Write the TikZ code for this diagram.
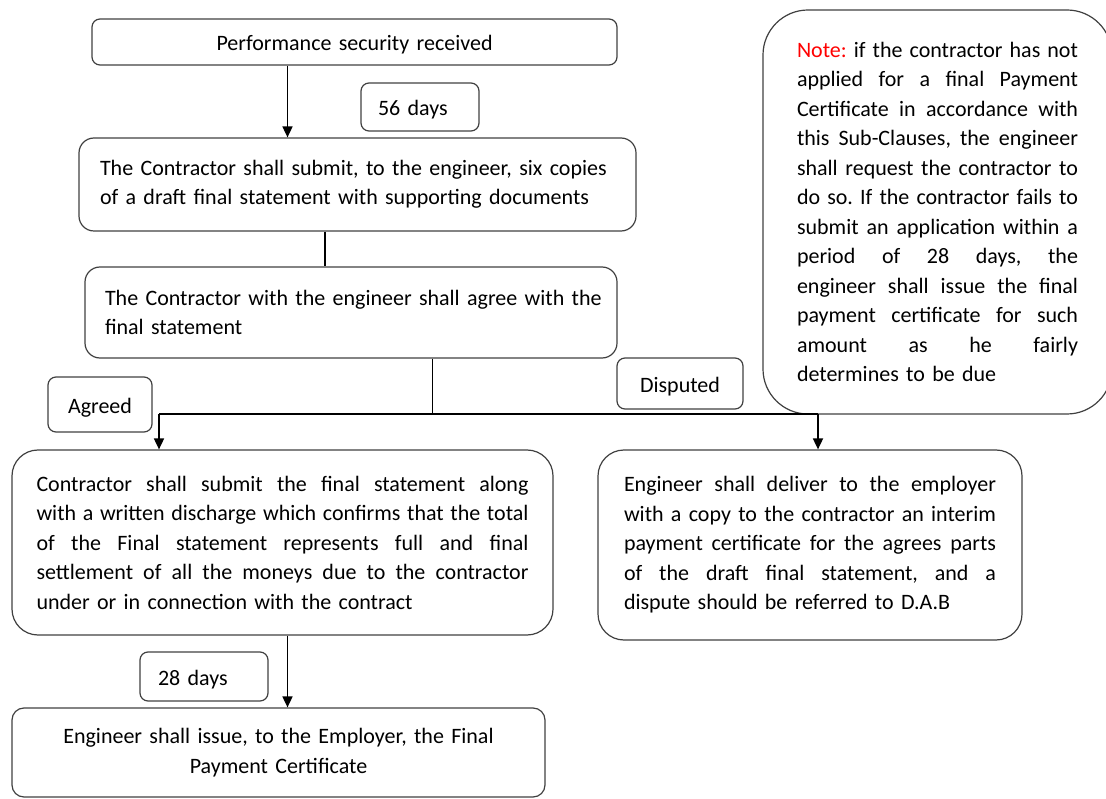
\documentclass[tikz,border=0pt]{standalone}
\usepackage{fontspec}
\setmainfont{Carlito}
\usetikzlibrary{arrows.meta}
% one justified line of a paragraph, spaces stretched to fill the given width
\newcommand{\jl}[2]{\leavevmode\hbox to #1{\spaceskip=0.226em plus 1fil\relax #2}}
% single-line labels sit a little low in their boxes
\newcommand{\low}[1]{\raisebox{-3pt}[\height][\depth]{#1}}
\begin{document}
\frenchspacing
\begin{tikzpicture}[x=1pt,y=-1pt,
  txt/.style={font=\fontsize{22}{29.5}\selectfont},
  box/.style={draw=black!75, line width=1.2pt, rounded corners=#1, inner sep=0pt, txt},
  link/.style={draw=black, line width=1.7pt},
  arr/.style={link, -{Triangle[length=11pt,width=10pt]}}
]
\useasboundingbox (0,0) rectangle (1106,799);

% main flow
\node[box=8pt, minimum width=525pt, minimum height=46pt, text width=500pt, align=center]
  (perf) at (354.5,42) {\low{Performance security received}};
\node[box=8pt, minimum width=118pt, minimum height=48pt, text width=84pt, align=left]
  (d56) at (420,107) {\low{56 days}};
\node[box=15pt, minimum width=557pt, minimum height=93pt, text width=515pt, align=left]
  (draft) at (357.5,184.5)
  {\mbox{The Contractor shall submit, to the engineer, six copies}\\
   \mbox{of a draft final statement with supporting documents}};
\node[box=15pt, minimum width=532pt, minimum height=91pt, text width=492pt, align=left]
  (agree) at (351,312.5)
  {\mbox{The Contractor with the engineer shall agree with the}\\
   \mbox{final statement}};

% branch labels
\node[box=8pt, minimum width=104pt, minimum height=55pt, align=center]
  (agreed) at (100,404.5) {\low{Agreed}};
\node[box=8pt, minimum width=126pt, minimum height=51pt, align=center]
  (disputed) at (680,383.5) {\low{Disputed}};

% note
\node[box=45pt, minimum width=349pt, minimum height=404pt, text width=281pt, align=left]
  (note) at (937.5,212)
  {\jl{281pt}{\textcolor{red}{Note:} if the contractor has not}\\
   \jl{281pt}{applied for a final Payment}\\
   \jl{281pt}{Certificate in accordance with}\\
   \jl{281pt}{this Sub-Clauses, the engineer}\\
   \jl{281pt}{shall request the contractor to}\\
   \jl{281pt}{do so. If the contractor fails to}\\
   \jl{281pt}{submit an application within a}\\
   \jl{281pt}{period of 28 days, the}\\
   \jl{281pt}{engineer shall issue the final}\\
   \jl{281pt}{payment certificate for such}\\
   \jl{281pt}{amount as he fairly}\\
   determines to be due};

% outcomes
\node[box=26pt, minimum width=541pt, minimum height=185pt, text width=492pt, align=left]
  (accept) at (282.5,542.5)
  {\jl{492pt}{Contractor shall submit the final statement along}\\
   \jl{492pt}{with a written discharge which confirms that the total}\\
   \jl{492pt}{of the Final statement represents full and final}\\
   \jl{492pt}{settlement of all the moneys due to the contractor}\\
   under or in connection with the contract};
\node[box=26pt, minimum width=424pt, minimum height=190pt, text width=372pt, align=left]
  (dispute) at (810,545)
  {\jl{372pt}{Engineer shall deliver to the employer}\\
   \jl{372pt}{with a copy to the contractor an interim}\\
   \jl{372pt}{payment certificate for the agrees parts}\\
   \jl{372pt}{of the draft final statement, and a}\\
   dispute should be referred to D.A.B};
\node[box=8pt, minimum width=128pt, minimum height=49pt, text width=92pt, align=left]
  (d28) at (204,676.5) {\low{28 days}};
\node[box=12pt, minimum width=533pt, minimum height=89pt, text width=500pt, align=center]
  (fpc) at (278.5,752.5)
  {Engineer shall issue, to the Employer, the Final\\ Payment Certificate};

% connectors
\coordinate (xa) at (287.5,0);
\coordinate (xb) at (325,0);
\coordinate (jm) at (432.5,414);
\coordinate (jl) at (159,414);
\coordinate (jr) at (818,414);

\draw[arr] (perf.south -| xa) -- (draft.north -| xa);
\draw[link] (draft.south -| xb) -- (agree.north -| xb);
\draw[link] (agree.south -| jm) -- (jm);
\draw[link] (jl) -- (jr);
\draw[arr] (jl) -- (accept.north -| jl);
\draw[arr] (jr) -- (dispute.north -| jr);
\draw[arr] (accept.south -| xa) -- (fpc.north -| xa);
\end{tikzpicture}
\end{document}
